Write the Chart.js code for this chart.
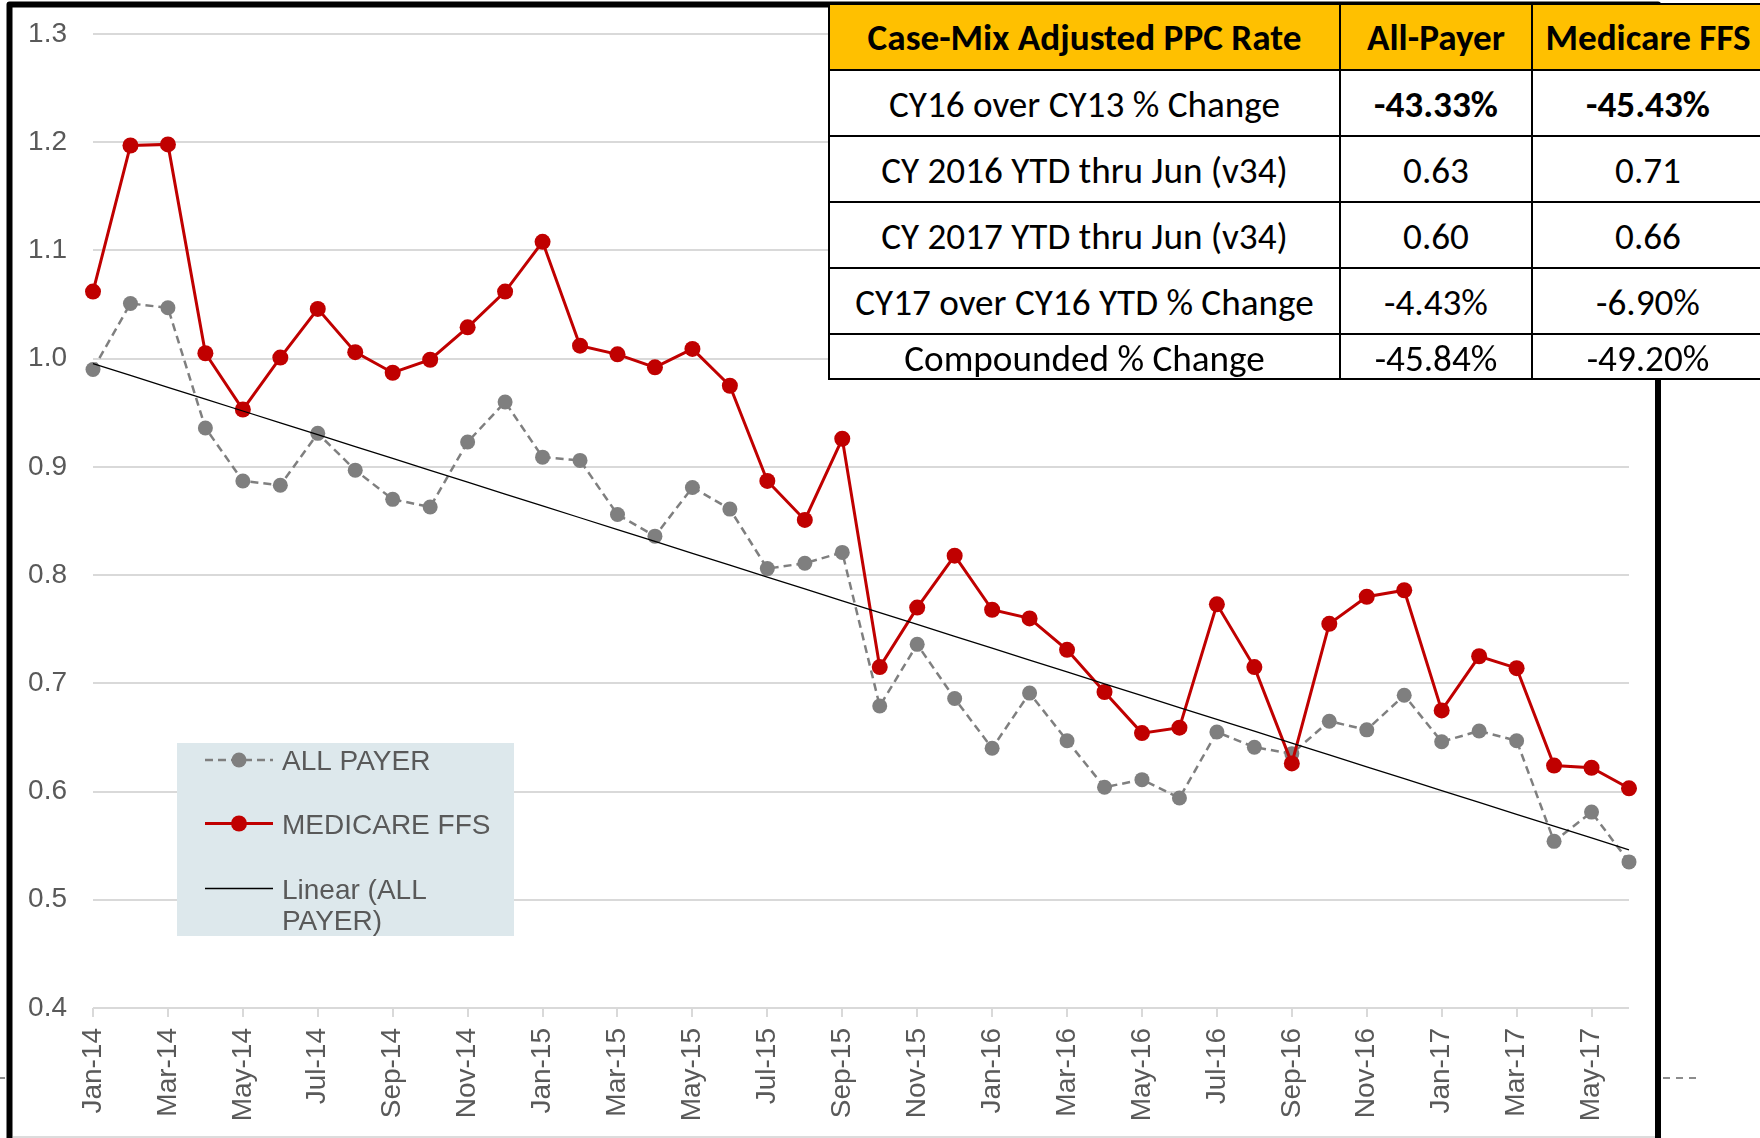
<!DOCTYPE html>
<html>
<head>
<meta charset="utf-8">
<script src="https://cdn.jsdelivr.net/npm/chart.js@4.4.1/dist/chart.umd.min.js"></script>
<style>
  html, body { margin: 0; padding: 0; background: #fff; overflow: hidden; }
  #wrap { position: relative; width: 1760px; height: 1138px; overflow: hidden; }
  #c { position: absolute; left: 0; top: 0; }
  #tbl { position: absolute; left: 0; top: 0; width: 1760px; height: 1138px; pointer-events: none; }
  #tbl div { position: absolute; box-sizing: border-box; }
  .cell { display: flex; align-items: center; justify-content: center; white-space: nowrap; color: #000;
          font-family: Carlito, Calibri, Lato, sans-serif; }
</style>
</head>
<body>
<div id="wrap">
  <canvas id="c" width="1760" height="1138"></canvas>
  <div id="tbl"></div>
</div>
<script>
// ---------------- DATA ----------------
const months = [
  'Jan-14','Feb-14','Mar-14','Apr-14','May-14','Jun-14','Jul-14','Aug-14','Sep-14','Oct-14','Nov-14','Dec-14',
  'Jan-15','Feb-15','Mar-15','Apr-15','May-15','Jun-15','Jul-15','Aug-15','Sep-15','Oct-15','Nov-15','Dec-15',
  'Jan-16','Feb-16','Mar-16','Apr-16','May-16','Jun-16','Jul-16','Aug-16','Sep-16','Oct-16','Nov-16','Dec-16',
  'Jan-17','Feb-17','Mar-17','Apr-17','May-17','Jun-17'
];
const allPayer = [
  0.990, 1.051, 1.047, 0.936, 0.887, 0.883, 0.931, 0.897, 0.870, 0.863, 0.923, 0.960,
  0.909, 0.906, 0.856, 0.836, 0.881, 0.861, 0.806, 0.811, 0.821, 0.679, 0.736, 0.686,
  0.640, 0.691, 0.647, 0.604, 0.611, 0.594, 0.655, 0.641, 0.635, 0.665, 0.657, 0.689,
  0.646, 0.656, 0.647, 0.554, 0.581, 0.535
];
const medicareFFS = [
  1.062, 1.197, 1.198, 1.005, 0.953, 1.001, 1.046, 1.006, 0.987, 0.999, 1.029, 1.062,
  1.108, 1.012, 1.004, 0.992, 1.009, 0.975, 0.887, 0.851, 0.926, 0.715, 0.770, 0.818,
  0.768, 0.760, 0.731, 0.692, 0.654, 0.659, 0.773, 0.715, 0.626, 0.755, 0.780, 0.786,
  0.675, 0.725, 0.714, 0.624, 0.622, 0.603
];
const seriesLabels = ['ALL PAYER', 'MEDICARE FFS', 'Linear (ALL PAYER)'];
const yMin = 0.4, yMax = 1.3, yStep = 0.1;

const tableHeader = ['Case-Mix Adjusted PPC Rate', 'All-Payer', 'Medicare FFS'];
const tableRowLabels = ['CY16 over CY13 % Change', 'CY 2016 YTD thru Jun (v34)', 'CY 2017 YTD thru Jun (v34)',
                        'CY17 over CY16 YTD % Change', 'Compounded % Change'];
const tableAllPayer = ['-43.33%', '0.63', '0.60', '-4.43%', '-45.84%'];
const tableMedicare = ['-45.43%', '0.71', '0.66', '-6.90%', '-49.20%'];
const tableBoldRows = [0];

// linear trend (least squares) of ALL PAYER
const trendAllPayer = (() => {
  const n = allPayer.length;
  let sx = 0, sy = 0, sxx = 0, sxy = 0;
  allPayer.forEach((y, i) => { sx += i; sy += y; sxx += i * i; sxy += i * y; });
  const b = (n * sxy - sx * sy) / (n * sxx - sx * sx);
  const a = (sy - b * sx) / n;
  return allPayer.map((_, i) => a + b * i);
})();

// ---------------- STYLE ----------------
const AXIS_FONT = "'Liberation Sans', Arial, sans-serif";
const TEXT_GRAY = '#595959';
const GRID = '#D9D9D9';
const RED = '#C00000';
const GRAY = '#7F7F7F';

const framePlugin = {
  id: 'frame',
  beforeDraw(chart) {
    const c = chart.ctx;
    c.save();
    c.fillStyle = '#fff';
    c.fillRect(0, 0, chart.width, chart.height);
    c.restore();
  },
  afterDraw(chart) {
    const c = chart.ctx;
    c.save();
    c.strokeStyle = '#DCDCDC'; c.lineWidth = 2;
    c.beginPath(); c.moveTo(13, 1137); c.lineTo(1655, 1137); c.stroke();
    c.strokeStyle = '#000'; c.lineWidth = 6; c.lineJoin = 'round';
    c.beginPath(); c.moveTo(9.5, 1140); c.lineTo(9.5, 4.5); c.lineTo(1658, 4.5); c.lineTo(1658, 1140); c.stroke();
    c.strokeStyle = '#8C8C8C'; c.lineWidth = 2; c.setLineDash([7, 6]);
    c.beginPath(); c.moveTo(1663, 1078); c.lineTo(1700, 1078); c.stroke();
    c.setLineDash([]);
    c.beginPath(); c.moveTo(0, 1078); c.lineTo(5, 1078); c.stroke();
    c.restore();
  }
};

const legendPlugin = {
  id: 'boxLegend',
  afterDraw(chart) {
    const c = chart.ctx;
    const dsByLabel = l => chart.data.datasets.find(d => d.label === l);
    c.save();
    c.fillStyle = '#DDE8EC';
    c.fillRect(177, 743, 337, 193);
    const ys = [760, 823.5, 888.5];
    c.font = '28px ' + AXIS_FONT;
    c.textBaseline = 'alphabetic';
    c.textAlign = 'left';
    seriesLabels.forEach((lab, k) => {
      const ds = dsByLabel(lab);
      const y = ys[k];
      c.strokeStyle = ds.borderColor;
      c.lineWidth = ds.borderWidth;
      c.setLineDash(ds.borderDash || []);
      c.beginPath(); c.moveTo(205, y); c.lineTo(273, y); c.stroke();
      c.setLineDash([]);
      if (ds.pointRadius > 0) {
        c.fillStyle = ds.pointBackgroundColor;
        c.beginPath(); c.arc(239, y, ds.pointRadius, 0, Math.PI * 2); c.fill();
      }
      const words = lab.split(' ');
      const lines = [];
      let cur = '';
      words.forEach(w => {
        const t = cur ? cur + ' ' + w : w;
        if (c.measureText(t).width > 225 && cur) { lines.push(cur); cur = w; } else cur = t;
      });
      lines.push(cur);
      c.fillStyle = TEXT_GRAY;
      lines.forEach((ln, j) => c.fillText(ln, 282, y + 10 + j * 31));
    });
    c.restore();
  }
};

new Chart(document.getElementById('c'), {
  type: 'line',
  data: {
    labels: months,
    datasets: [
      { label: seriesLabels[2], data: trendAllPayer, borderColor: '#000', borderWidth: 1.3,
        pointRadius: 0, order: 0, clip: false, tension: 0 },
      { label: seriesLabels[1], data: medicareFFS, borderColor: RED, backgroundColor: RED, borderWidth: 3,
        pointRadius: 8, pointBackgroundColor: RED, pointBorderColor: RED, pointBorderWidth: 0,
        order: 1, clip: false, tension: 0 },
      { label: seriesLabels[0], data: allPayer, borderColor: GRAY, backgroundColor: GRAY, borderWidth: 2.5,
        borderDash: [8, 5], pointRadius: 7.5, pointBackgroundColor: GRAY, pointBorderColor: GRAY,
        pointBorderWidth: 0, order: 2, clip: false, tension: 0 }
    ]
  },
  options: {
    responsive: false,
    animation: false,
    devicePixelRatio: 1,
    layout: { padding: { left: 0, right: 131, top: 34, bottom: 0 } },
    plugins: { legend: { display: false }, tooltip: { enabled: false } },
    scales: {
      x: {
        grid: { drawOnChartArea: false, drawTicks: true, tickLength: 9, lineWidth: 2,
                color: ctx => (ctx.index % 2 === 0 ? GRID : 'rgba(0,0,0,0)') },
        border: { display: false },
        ticks: { autoSkip: false, maxRotation: 90, minRotation: 90, padding: 11, color: TEXT_GRAY,
                 font: { family: AXIS_FONT, size: 28 },
                 callback: (v, i) => (i % 2 === 0 ? months[i] : '') },
        afterFit: s => { s.height = 130; }
      },
      y: {
        min: yMin, max: yMax,
        grid: { color: GRID, lineWidth: 2, drawTicks: false },
        border: { display: false },
        ticks: { stepSize: yStep, padding: 26, color: TEXT_GRAY, font: { family: AXIS_FONT, size: 28 },
                 callback: v => Number(v).toFixed(1) },
        afterFit: s => { s.width = 93; s.paddingTop = 0; s.paddingBottom = 0; }
      }
    }
  },
  plugins: [framePlugin, legendPlugin]
});

// ---------------- TABLE ----------------
(function buildTable() {
  const host = document.getElementById('tbl');
  const TABLE_FONT = "Carlito, Calibri, Lato, sans-serif";
  const colX = [829, 1340, 1532, 1764];
  const rowY = [4, 70, 136, 202, 268, 334, 379];
  const m = document.createElement('canvas').getContext('2d');
  const fit = (text, weight, target) => { m.font = weight + ' 100px ' + TABLE_FONT; return 100 * target / m.measureText(text).width; };
  const regSize = fit(tableRowLabels[0], 'normal', 391);
  const boldSize = fit(tableHeader[0], 'bold', 434);
  const add = (style, text, cls) => {
    const d = document.createElement('div');
    if (cls) d.className = cls;
    Object.assign(d.style, style);
    if (text !== undefined) d.textContent = text;
    host.appendChild(d);
    return d;
  };
  add({ left: colX[0] + 'px', top: rowY[0] + 'px', width: (colX[3] - colX[0]) + 'px', height: (rowY[1] - rowY[0]) + 'px', background: '#FFC000' });
  add({ left: colX[0] + 'px', top: rowY[1] + 'px', width: (colX[3] - colX[0]) + 'px', height: (rowY[6] - rowY[1]) + 'px', background: '#FFFFFF' });
  const rows = [tableHeader].concat(tableRowLabels.map((l, i) => [l, tableAllPayer[i], tableMedicare[i]]));
  rows.forEach((r, ri) => {
    r.forEach((txt, ci) => {
      const bold = ri === 0 || (tableBoldRows.includes(ri - 1) && ci > 0);
      add({ left: colX[ci] + 'px', top: rowY[ri] + 'px', width: (colX[ci + 1] - colX[ci]) + 'px',
            height: (rowY[ri + 1] - rowY[ri]) + 'px', fontSize: (bold ? boldSize : regSize) + 'px',
            fontWeight: bold ? 'bold' : 'normal', paddingTop: ri === 0 ? '0px' : '3px' }, txt, 'cell');
    });
  });
  rowY.forEach(y => add({ left: (colX[0] - 1) + 'px', top: (y - 1) + 'px', width: (colX[3] - colX[0] + 2) + 'px', height: '2px', background: '#000' }));
  colX.forEach(x => add({ left: (x - 1) + 'px', top: (rowY[0] - 1) + 'px', width: '2px', height: (rowY[6] - rowY[0] + 2) + 'px', background: '#000' }));
})();
</script>
</body>
</html>
